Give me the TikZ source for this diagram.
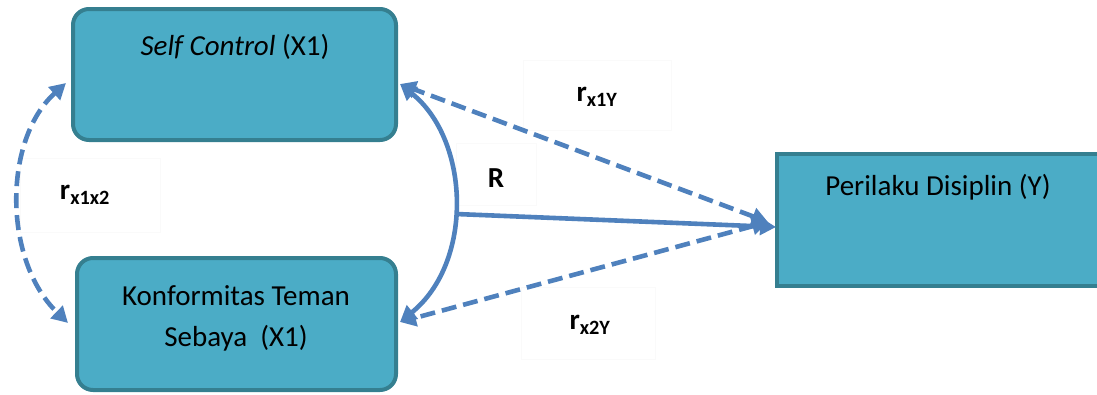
\documentclass[tikz,border=0pt]{standalone}
\usepackage{fontspec}
\setmainfont{Carlito}
\usetikzlibrary{arrows.meta}
\definecolor{boxfill}{HTML}{4BACC6}
\definecolor{boxline}{HTML}{357F90}
\definecolor{arr}{HTML}{4F81BD}
\begin{document}
\begin{tikzpicture}[x=1pt,y=-1pt,
  varbox/.style={draw=boxline,line width=4pt,fill=boxfill,rounded corners=16pt},
  ybox/.style={draw=boxline,line width=4pt,fill=boxfill},
  txt/.style={font=\fontsize{29}{34}\selectfont,text=black,inner sep=0pt},
  lbl/.style={draw=black!2,fill=white,line width=1pt,font=\fontsize{29}{34}\selectfont\bfseries,text=black},
  conn/.style={draw=arr,line width=4.6pt},
  dashconn/.style={conn,dash pattern=on 15pt off 7pt},
  tip/.style={-{Triangle[length=16pt,width=17pt]}},
  tips/.style={{Triangle[length=16pt,width=17pt]}-{Triangle[length=16pt,width=17pt]}}
]
\useasboundingbox (0,0) rectangle (1097,394);
% boxes
\draw[varbox] (73,9) rectangle (396,140);
\node[txt] (t1) at (235,47) {\textit{Self Control} (X1)};
\draw[varbox] (77,258) rectangle (396,390);
\node[txt] (t2a) at (236,296) {Konformitas Teman};
\node[txt] (t2b) at (236,338) {Sebaya\ \ (X1)};
\draw[ybox] (777,154) rectangle (1102,286);
\node[txt] (t3) at (938,187) {Perilaku Disiplin (Y)};
% label boxes
\node[lbl,minimum width=140pt,minimum height=74pt] (lx1x2) at (90,195) {};
\node[lbl,minimum width=148pt,minimum height=70pt] (lx1y) at (597,95) {};
\node[lbl,minimum width=80pt,minimum height=62pt] (lR) at (496,174) {};
\node[lbl,minimum width=134pt,minimum height=72pt] (lx2y) at (588,323) {};
% anchors
\coordinate (a1) at (400,84);
\coordinate (a2) at (400,322);
\coordinate (m) at (456,214);
\coordinate (y1) at (776,227);
\coordinate (y2) at (768,222);
\coordinate (l1) at (66,83);
\coordinate (l2) at (68,323);
% connectors
\draw[dashconn,tips] (l1) .. controls (3,140) and (3,260) .. (l2);
\draw[conn,tips] (a1) .. controls (470,140) and (474,262) .. (a2);
\draw[conn,tip] (m) -- (y1);
\draw[dashconn,tips] (y2) -- (a1);
\draw[dashconn,tips] (y2) -- (a2);
% label texts
\node[lbl,draw=none,fill=none] (r12) at (85,195) {r\textsubscript{x1x2}};
\node[lbl,draw=none,fill=none] (r1y) at (597,97) {r\textsubscript{x1Y}};
\node[lbl,draw=none,fill=none] (rR) at (496,178) {R};
\node[lbl,draw=none,fill=none] (r2y) at (590,325) {r\textsubscript{x2Y}};
\end{tikzpicture}
\end{document}
